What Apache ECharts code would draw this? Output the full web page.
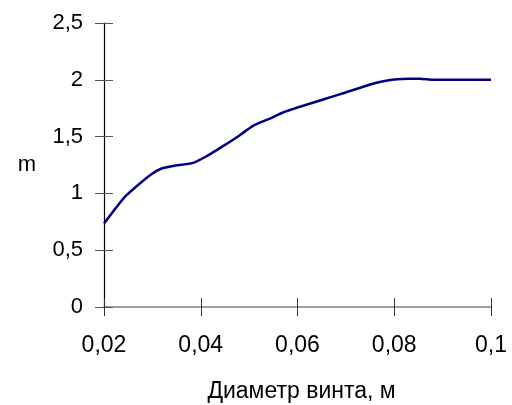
<!DOCTYPE html>
<html>
<head>
<meta charset="utf-8">
<script src="https://cdn.jsdelivr.net/npm/echarts@6/dist/echarts.min.js"></script>
<style>html,body{margin:0;padding:0;background:#fff}#c{width:512px;height:405px}</style>
</head>
<body>
<div id="c"></div>
<script>
var xValues = [0.02, 0.0243, 0.0274, 0.0298, 0.0319, 0.0343, 0.0384, 0.0412, 0.0446, 0.048, 0.0508, 0.0543, 0.057, 0.06, 0.0653, 0.0701, 0.075, 0.0777, 0.08, 0.0832, 0.0853, 0.0881, 0.1];
var yValues = [0.734, 0.969, 1.087, 1.169, 1.219, 1.242, 1.269, 1.327, 1.416, 1.51, 1.595, 1.659, 1.712, 1.756, 1.827, 1.891, 1.959, 1.988, 2.003, 2.009, 2.009, 2.0, 2.0];
var xTicks = ['0,02', '0,04', '0,06', '0,08', '0,1'];
var yTicks = ['0', '0,5', '1', '1,5', '2', '2,5'];
var xName = 'Диаметр винта, м';
var yName = 'm';

var FONT = '"Liberation Sans", Arial, sans-serif';
var chart = echarts.init(document.getElementById('c'), null, {renderer: 'canvas'});
var data = xValues.map(function (x, i) { return [x, yValues[i]]; });
var gridW = 387, gridH = 284;
chart.setOption({
  animation: false,
  backgroundColor: '#ffffff',
  grid: {left: 104, right: 21, top: 23, bottom: 98, containLabel: false, outerBoundsMode: 'none'},
  xAxis: [{
    type: 'value', position: 'bottom', min: 0.02, max: 0.1, interval: 0.02,
    name: xName, nameLocation: 'middle', nameGap: 73,
    nameTextStyle: {fontFamily: FONT, fontSize: 23, color: '#000', padding: [0, 0, 0, 8]},
    axisLine: {show: true, lineStyle: {color: '#808080', width: 1.5}},
    axisTick: {show: true, length: 9, lineStyle: {color: '#333', width: 1}},
    axisLabel: {margin: 27, fontFamily: FONT, fontSize: 23, color: '#000',
      formatter: function (v) { var i = Math.round((v - 0.02) / 0.02); return xTicks[i]; }},
    splitLine: {show: false}
  }, {
    type: 'value', position: 'top', offset: -gridH, min: 0.02, max: 0.1, interval: 0.02,
    axisLine: {show: false},
    axisTick: {show: true, length: 9, lineStyle: {color: '#333', width: 1}},
    axisLabel: {show: false}, splitLine: {show: false}
  }],
  yAxis: [{
    type: 'value', position: 'left', min: 0, max: 2.5, interval: 0.5,
    name: yName, nameLocation: 'middle', nameRotate: 0, nameGap: 68,
    nameTextStyle: {fontFamily: FONT, fontSize: 22, color: '#000', padding: [10, 0, 0, 0]},
    axisLine: {show: true, lineStyle: {color: '#000', width: 1.2}},
    axisTick: {show: true, length: 9, lineStyle: {color: '#555', width: 1}},
    axisLabel: {margin: 21, fontFamily: FONT, fontSize: 22, color: '#000',
      formatter: function (v) { return yTicks[Math.round(v / 0.5)]; }},
    splitLine: {show: false}
  }, {
    type: 'value', position: 'right', offset: -gridW, min: 0, max: 2.5, interval: 0.5,
    axisLine: {show: false},
    axisTick: {show: true, length: 9, lineStyle: {color: '#555', width: 1}},
    axisLabel: {show: false}, splitLine: {show: false}
  }],
  series: [{
    type: 'line', xAxisIndex: 0, yAxisIndex: 0, data: data,
    smooth: 0.2, symbol: 'none',
    lineStyle: {color: '#000080', width: 2.5}
  }]
});
</script>
</body>
</html>
